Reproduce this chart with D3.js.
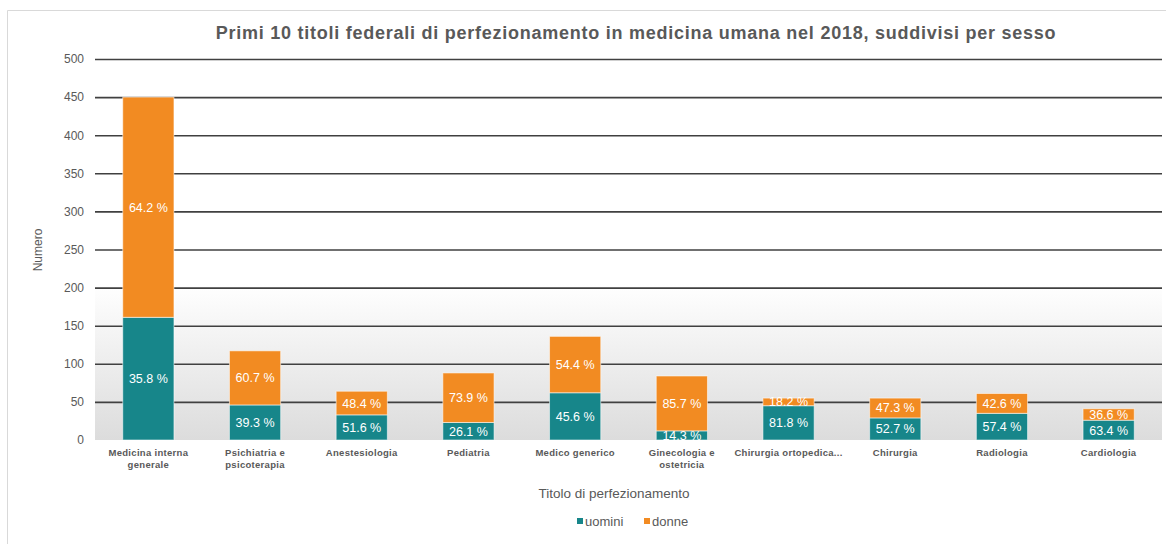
<!DOCTYPE html>
<html>
  <head>
    <meta charset="utf-8">
    <style>
      body { margin: 0; background: #fff; }
      svg { display: block; font-family: "Liberation Sans", Arial, sans-serif; }
      .tick text { fill: #595959; font-size: 12px; }
      .cat text { fill: #595959; font-size: 9.5px; font-weight: bold; letter-spacing: 0.3px; }
      .pct { fill: #fff; font-size: 12.5px; text-anchor: middle; }
    </style>
  </head>
  <body>
    <svg id="chart" width="1166" height="544"></svg>

    <script src="https://d3js.org/d3.v7.min.js"></script>
    <script type="text/javascript">
      const categories = [
        ["Medicina interna", "generale"],
        ["Psichiatria e", "psicoterapia"],
        ["Anestesiologia"],
        ["Pediatria"],
        ["Medico generico"],
        ["Ginecologia e", "ostetricia"],
        ["Chirurgia ortopedica..."],
        ["Chirurgia"],
        ["Radiologia"],
        ["Cardiologia"]
      ];
      const uomini = [161, 46, 33, 23, 62, 12, 45, 29, 35, 26];
      const donne = [289, 71, 31, 65, 74, 72, 10, 26, 26, 15];
      const yTicks = [0, 50, 100, 150, 200, 250, 300, 350, 400, 450, 500];
      const seriesNames = ["uomini", "donne"];
      const colors = ["#17868a", "#f28b22"];

      (function() {
        const svg = d3.select("#chart");
        const left = 95, right = 1162, top = 59, bottom = 440;

        const x = d3.scaleBand().domain(d3.range(categories.length)).range([left, right]).paddingInner(0.52).paddingOuter(0.26);
        const y = d3.scaleLinear().domain([0, 500]).range([bottom, top]);

        // chart frame
        svg.append("path").attr("d", "M7.5,544V10.5H1166").attr("fill", "none").attr("stroke", "#d9d9d9");

        // background gradient in lower part of plot
        const grad = svg.append("defs").append("linearGradient").attr("id", "bg").attr("x1", 0).attr("y1", 0).attr("x2", 0).attr("y2", 1);
        grad.append("stop").attr("offset", "0%").attr("stop-color", "#ffffff");
        grad.append("stop").attr("offset", "100%").attr("stop-color", "#dcdcdc");
        svg.append("rect").attr("x", left).attr("width", right - left)
          .attr("y", y(205)).attr("height", y(0) - y(205)).attr("fill", "url(#bg)");

        // y axis + grid
        const yAxis = svg.append("g").attr("transform", "translate(" + left + ",0)")
          .call(d3.axisLeft(y).tickValues(yTicks).tickSize(0).tickPadding(11));
        yAxis.select(".domain").remove();
        yAxis.selectAll(".tick").filter(d => d > 0).append("line")
          .attr("x2", right - left).attr("stroke", "#404040").attr("stroke-width", 1.6);

        // stacked bars
        const rows = categories.map((c, i) => ({ i: i, uomini: uomini[i], donne: donne[i] }));
        const stack = d3.stack().keys(seriesNames)(rows);

        const layer = svg.selectAll("g.layer").data(stack).enter().append("g")
          .attr("class", "layer").attr("fill", (d, k) => colors[k]);

        layer.selectAll("rect").data(d => d).enter().append("rect")
          .attr("x", d => x(d.data.i))
          .attr("width", x.bandwidth())
          .attr("y", d => y(d[1]))
          .attr("height", d => y(d[0]) - y(d[1]))
          .attr("stroke", "rgba(255,255,255,0.55)")
          .attr("stroke-width", 1);

        const fmt = d3.format(".1f");
        layer.selectAll("text").data(d => d).enter().append("text")
          .attr("class", "pct")
          .attr("x", d => x(d.data.i) + x.bandwidth() / 2)
          .attr("y", d => (y(d[0]) + y(d[1])) / 2)
          .attr("dy", ".36em")
          .text(d => fmt((d[1] - d[0]) / (d.data.uomini + d.data.donne) * 100) + " %");

        // category labels
        const cat = svg.append("g").attr("class", "cat");
        categories.forEach((lines, i) => {
          const cx = x(i) + x.bandwidth() / 2;
          const t = cat.append("text").attr("text-anchor", "middle").attr("x", cx).attr("y", 456);
          lines.forEach((l, j) => t.append("tspan").attr("x", cx).attr("dy", j ? 12 : 0).text(l));
        });

        // titles
        svg.append("text").attr("x", 636).attr("y", 39).attr("text-anchor", "middle")
          .attr("fill", "#595959").attr("font-size", 18).attr("font-weight", "bold").attr("letter-spacing", 0.75)
          .text("Primi 10 titoli federali di perfezionamento in medicina umana nel 2018, suddivisi per sesso");
        svg.append("text").attr("transform", "translate(42,250) rotate(-90)").attr("text-anchor", "middle")
          .attr("fill", "#595959").attr("font-size", 12).text("Numero");
        svg.append("text").attr("x", 614).attr("y", 498).attr("text-anchor", "middle")
          .attr("fill", "#595959").attr("font-size", 13.5).text("Titolo di perfezionamento");

        // legend
        const legX = [577, 644];
        const leg = svg.selectAll("g.leg").data(seriesNames).enter().append("g")
          .attr("class", "leg").attr("transform", (d, k) => "translate(" + legX[k] + ",521)");
        leg.append("rect").attr("y", -3).attr("width", 6).attr("height", 6).attr("fill", (d, k) => colors[k]);
        leg.append("text").attr("x", 8).attr("dy", ".35em").attr("fill", "#595959").attr("font-size", 13).text(d => d);
      })()
    </script>
  </body>
</html>
